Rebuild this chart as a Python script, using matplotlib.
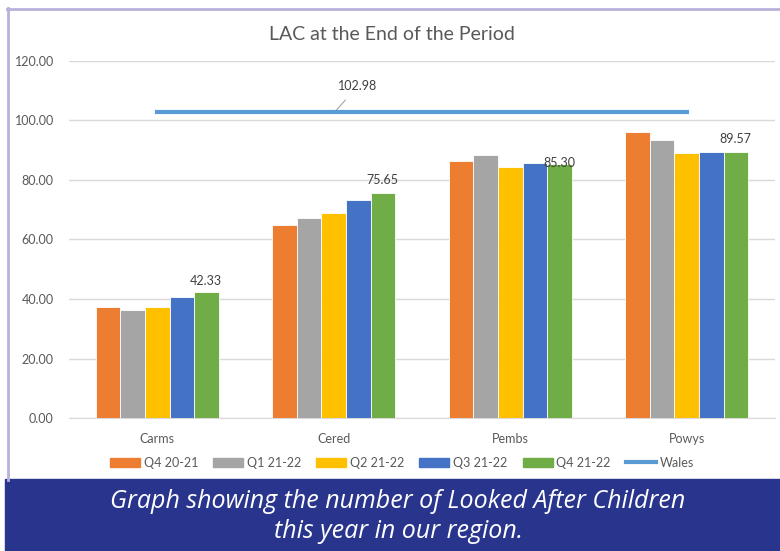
import matplotlib.pyplot as plt
import numpy as np
from matplotlib.patches import Rectangle, Patch
from matplotlib.lines import Line2D

# data
areas = ['Carms', 'Cered', 'Pembs', 'Powys']
series = ['Q4 20-21', 'Q1 21-22', 'Q2 21-22', 'Q3 21-22', 'Q4 21-22']
q4_2021 = [37.3, 64.9, 86.4, 96.1]
q1_2122 = [36.2, 67.2, 88.4, 93.3]
q2_2122 = [37.3, 68.9, 84.5, 89.1]
q3_2122 = [40.7, 73.3, 85.6, 89.5]
q4_2122 = [42.33, 75.65, 85.30, 89.57]
wales = [102.98, 102.98, 102.98, 102.98]

colours = ['#ED7D31', '#A5A5A5', '#FFC000', '#4472C4', '#70AD47']
wales_col = '#5B9BD5'
txt = '#595959'
font = 'Lato'

fig = plt.figure(figsize=(7.8, 5.51), dpi=100)
ax = fig.add_axes([69/780, 133/551, 706/780, 357/551])

x = np.arange(len(areas))
w = 0.139
vals = [q4_2021, q1_2122, q2_2122, q3_2122, q4_2122]
for k, v in enumerate(vals):
    ax.bar(x + (k - 2) * w, v, w, color=colours[k], edgecolor='white', linewidth=0.6, zorder=3)

# labels on last series only (pembs one sits on the bar in the original)
lab_off = [3.8, 4.2, 0.4, 4.2]
for xi, v, off in zip(x, q4_2122, lab_off):
    ax.text(xi + 2 * w, v + off, f'{v:.2f}', ha='center', va='center', fontsize=9, color='#404040',
            family=font, zorder=5)

ax.plot(x, wales, color=wales_col, lw=3, zorder=4)
ax.annotate(f'{wales[0]:.2f}', xy=(1.007, wales[0]), xytext=(1.137, 111.6), ha='center', va='center',
            fontsize=9, color='#404040', family=font,
            arrowprops=dict(arrowstyle='-', color='#A6A6A6', lw=0.8, shrinkA=5, shrinkB=0))

ax.set_xlim(-0.5, 3.5)
ax.set_ylim(0, 120)
ax.set_yticks(np.arange(0, 121, 20))
ax.set_yticklabels([f'{t:.2f}' for t in np.arange(0, 121, 20)])
ax.set_xticks(x)
ax.set_xticklabels(areas)
ax.grid(axis='y', color='#D9D9D9', lw=1, zorder=0)
for s in ['top', 'right', 'left']:
    ax.spines[s].set_visible(False)
ax.spines['bottom'].set_color('#D9D9D9')
ax.tick_params(length=0, labelsize=9, labelcolor=txt, pad=11)
ax.tick_params(axis='x', pad=11)
for lab in ax.get_xticklabels() + ax.get_yticklabels():
    lab.set_family(font)

fig.text(392/780, 1 - 34/551, 'LAC at the End of the Period', ha='center', va='center',
         fontsize=14, color=txt, family=font)

handles = [Patch(color=c) for c in colours] + [Line2D([0], [0], color=wales_col, lw=3)]
leg = fig.legend(handles, series + ['Wales'], loc='center', bbox_to_anchor=(402/780, 1 - 463/551),
                 ncol=6, frameon=False, handlelength=2.4, handleheight=0.8,
                 columnspacing=1.2, handletextpad=0.3, prop={'family': font, 'size': 9})
for t in leg.get_texts():
    t.set_color(txt)

# frame and caption banner
fig.add_artist(Line2D([7.5/780, 7.5/780], [1 - 480/551, 1 - 8/551], color='#B8B2DA', lw=2))
fig.add_artist(Line2D([7/780, 1], [1 - 8.5/551, 1 - 8.5/551], color='#B8B2DA', lw=2))
fig.add_artist(Rectangle((5/780, 0), 1, 72/551, transform=fig.transFigure, color='#29358C'))
fig.text(398/780, 1 - 501/551, 'Graph showing the number of Looked After Children', ha='center', va='center',
         fontsize=18, color='white', style='italic', family='Open Sans')
fig.text(398/780, 1 - 532/551, 'this year in our region.', ha='center', va='center',
         fontsize=18, color='white', style='italic', family='Open Sans')

fig.savefig('out.png', dpi=100)
